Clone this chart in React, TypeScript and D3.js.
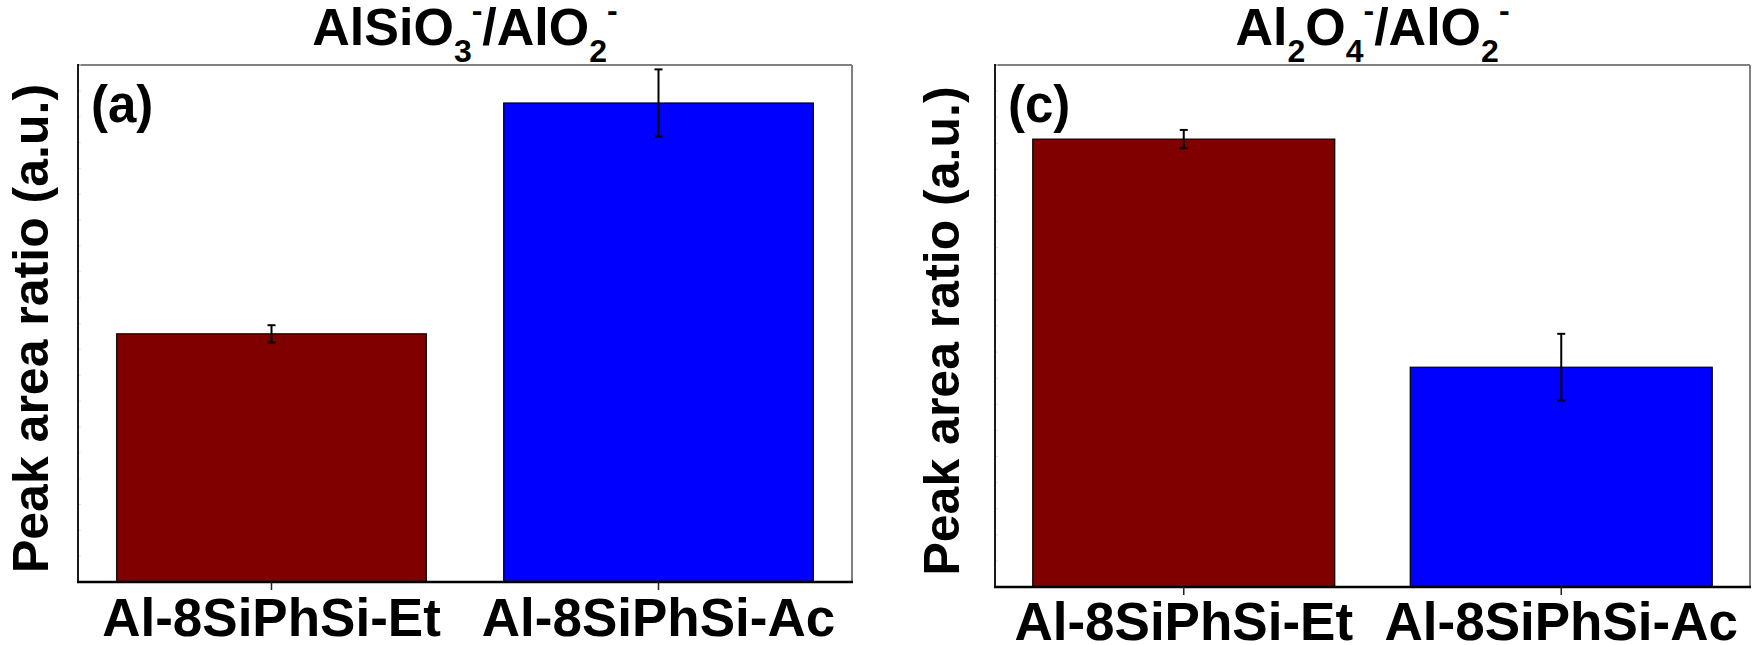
import React from "react";
import * as d3 from "d3";

const categories = ["Al-8SiPhSi-Et", "Al-8SiPhSi-Ac"];
const barColors = ["#800000", "#0000FF"];
const valuesA = [0.48, 0.9265];
const errorsA = [0.0167, 0.065];
const valuesC = [0.858, 0.421];
const errorsC = [0.0176, 0.064];

const W = 1756;
const H = 645;
const FONT = "'Liberation Sans', Arial, Helvetica, sans-serif";

type TitlePart = { t: string; kind: "n" | "sub" | "sup" };
const titleA: TitlePart[] = [
  { t: "AlSiO", kind: "n" },
  { t: "3", kind: "sub" },
  { t: "-", kind: "sup" },
  { t: "/AlO", kind: "n" },
  { t: "2", kind: "sub" },
  { t: "-", kind: "sup" },
];
const titleC: TitlePart[] = [
  { t: "Al", kind: "n" },
  { t: "2", kind: "sub" },
  { t: "O", kind: "n" },
  { t: "4", kind: "sub" },
  { t: "-", kind: "sup" },
  { t: "/AlO", kind: "n" },
  { t: "2", kind: "sub" },
  { t: "-", kind: "sup" },
];

function Title({ parts, x, y }: { parts: TitlePart[]; x: number; y: number }) {
  const F = 52;
  const S = 32;
  const subOff = 17;
  const supOff = -24;
  let cur = 0;
  return (
    <text x={x} y={y} textAnchor="middle" fontFamily={FONT} fontWeight="bold" fontSize={F} fill="#000">
      {parts.map((p, i) => {
        const target = p.kind === "sub" ? subOff : p.kind === "sup" ? supOff : 0;
        const dy = target - cur;
        cur = target;
        return (
          <tspan key={i} dy={dy} fontSize={p.kind === "n" ? F : S}>
            {p.t}
          </tspan>
        );
      })}
    </text>
  );
}

function Panel({
  left, right, top, bottom, values, errors, letter, title, yLabelX, labelBaseline,
}: {
  left: number; right: number; top: number; bottom: number;
  values: number[]; errors: number[]; letter: string; title: TitlePart[];
  yLabelX: number; labelBaseline: number;
}) {
  const x = d3.scaleBand<string>().domain(categories).range([left, right]).paddingInner(0.2).paddingOuter(0.1);
  const y = d3.scaleLinear().domain([0, 1]).range([bottom, top]);
  const minor = y.ticks(20);
  const cx = (left + right) / 2;
  return (
    <g>
      <Title parts={title} x={cx} y={45} />
      {/* frame */}
      <line x1={left} x2={right} y1={top} y2={top} stroke="#808080" strokeWidth={2} />
      <line x1={right} x2={right} y1={top} y2={bottom} stroke="#808080" strokeWidth={2} />
      {minor.map((t, i) => (
        <line key={i} x1={left} x2={left + 3} y1={y(t)} y2={y(t)} stroke="#e0e0e0" strokeWidth={1} />
      ))}
      {categories.map((c, i) => (
        <rect key={c} x={x(c)!} y={y(values[i])} width={x.bandwidth()} height={bottom - y(values[i])}
          fill={barColors[i]} stroke="#000" strokeWidth={1.2} />
      ))}
      {categories.map((c, i) => {
        const xc = x(c)! + x.bandwidth() / 2;
        const y1 = y(values[i] + errors[i]);
        const y2 = y(values[i] - errors[i]);
        return (
          <g key={c} stroke="#000" strokeWidth={2}>
            <line x1={xc} x2={xc} y1={y1} y2={y2} />
            <line x1={xc - 4} x2={xc + 4} y1={y1} y2={y1} />
            <line x1={xc - 4} x2={xc + 4} y1={y2} y2={y2} />
          </g>
        );
      })}
      <line x1={left} x2={left} y1={top - 1} y2={bottom} stroke="#000" strokeWidth={1.8} />
      <line x1={left - 1} x2={right + 1} y1={bottom} y2={bottom} stroke="#000" strokeWidth={2.5} />
      {categories.map((c) => {
        const xc = x(c)! + x.bandwidth() / 2;
        return (
          <g key={c}>
            <line x1={xc} x2={xc} y1={bottom} y2={bottom + 8} stroke="#222" strokeWidth={1.5} />
            <text x={xc} y={labelBaseline} textAnchor="middle" fontFamily={FONT} fontWeight="bold" fontSize={53} fill="#000">
              {c}
            </text>
          </g>
        );
      })}
      <text x={left + 13} y={122} fontFamily={FONT} fontWeight="bold" fontSize={51} fill="#000">
        {letter}
      </text>
      <text transform={`translate(${yLabelX},${(top + bottom) / 2 + 5}) rotate(-90)`} textAnchor="middle"
        fontFamily={FONT} fontWeight="bold" fontSize={50} fill="#000">
        Peak area ratio (a.u.)
      </text>
    </g>
  );
}

export default function App() {
  return (
    <svg width={W} height={H} style={{ position: "absolute", left: 0, top: 0, background: "#fff" }}>
      <rect x={0} y={0} width={W} height={H} fill="#fff" />
      <Panel left={78} right={852} top={65} bottom={582} values={valuesA} errors={errorsA}
        letter="(a)" title={titleA} yLabelX={48} labelBaseline={636} />
      <Panel left={995} right={1750} top={65} bottom={587} values={valuesC} errors={errorsC}
        letter="(c)" title={titleC} yLabelX={959} labelBaseline={640} />
    </svg>
  );
}
